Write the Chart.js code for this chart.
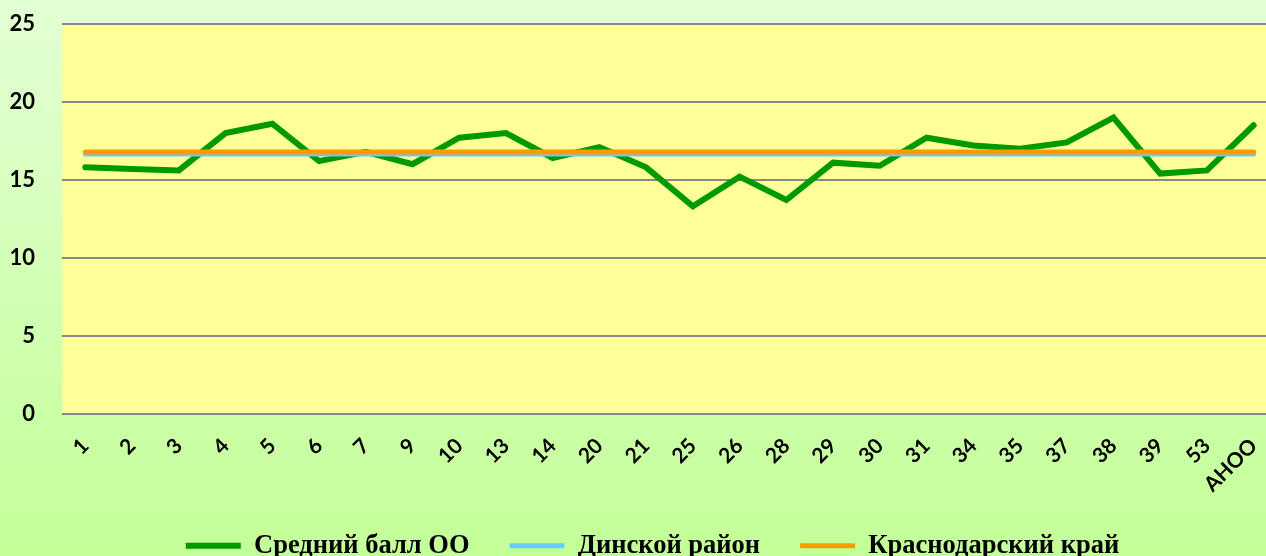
<!DOCTYPE html>
<html>
<head>
<meta charset="utf-8">
<script src="https://cdn.jsdelivr.net/npm/chart.js@4"></script>
<style>
    html, body { margin: 0; padding: 0; overflow: hidden; width: 1266px; height: 556px; }
    body { background: linear-gradient(#e3ffd4, #c3ff97); }
    #wrap { width: 1277px; height: 556px; }
</style>
</head>
<body>
<div id="wrap"><canvas id="chart" width="1277" height="556"></canvas></div>
<script>
const schools = ['1', '2', '3', '4', '5', '6', '7', '9', '10', '13', '14', '20', '21', '25', '26', '28',
    '29', '30', '31', '34', '35', '37', '38', '39', '53', 'АНОО'];
const schoolAvg = [15.8, 15.7, 15.6, 18.0, 18.6, 16.2, 16.8, 16.0, 17.7, 18.0, 16.4, 17.1, 15.8,
    13.3, 15.2, 13.7, 16.1, 15.9, 17.7, 17.2, 17.0, 17.4, 19.0, 15.4, 15.6, 18.5];
const districtAvg = schools.map(() => 16.65);
const regionAvg = schools.map(() => 16.78);
const yTicks = [0, 5, 10, 15, 20, 25];

// yellow plot area
const plotBackground = {
    id: 'plotBackground',
    beforeDraw(chart) {
        const { ctx, chartArea: a } = chart;
        ctx.save();
        ctx.fillStyle = '#ffff99';
        ctx.fillRect(a.left, a.top, a.right - a.left, a.bottom - a.top);
        ctx.restore();
    }
};

// the original legend sits a bit right of centre
const legendNudge = {
    id: 'legendNudge',
    afterLayout(chart) {
        chart.legend.left += 14;
        chart.legend.right += 14;
    }
};

function lineSet(label, data, color, width, order) {
    return {
        label: label,
        data: data,
        borderColor: color,
        backgroundColor: color,
        borderWidth: width,
        borderCapStyle: 'round',
        pointRadius: 0,
        pointHoverRadius: 0,
        tension: 0,
        order: order,
        pointStyle: 'line'
    };
}

const ctx = document.getElementById('chart').getContext('2d');
new Chart(ctx, {
    type: 'line',
    data: {
        labels: schools,
        datasets: [
            lineSet('Средний балл ОО', schoolAvg, '#009900', 6, 3),
            lineSet('Динской район', districtAvg, '#66ccff', 5, 2),
            lineSet('Краснодарский край', regionAvg, '#ff9900', 5, 1)
        ]
    },
    options: {
        responsive: false,
        animation: false,
        layout: { padding: { top: 24, right: 0, left: 0, bottom: -13 } },
        plugins: {
            tooltip: { enabled: false },
            legend: {
                position: 'bottom',
                labels: {
                    usePointStyle: true,
                    pointStyleWidth: 55,
                    padding: 40,
                    color: '#000',
                    font: { family: '"Liberation Serif", "Times New Roman", serif', size: 26.5, weight: 'bold' },
                    sort: (a, b) => a.datasetIndex - b.datasetIndex
                }
            }
        },
        scales: {
            x: {
                offset: true,
                afterFit(scale) {
                    scale.height = 79;
                    scale.paddingLeft = 0;
                    scale.paddingRight = 0;
                },
                grid: { display: false },
                border: { display: false },
                ticks: {
                    color: '#000',
                    maxRotation: 45,
                    minRotation: 45,
                    padding: 12,
                    autoSkip: false,
                    font: { family: 'Lato, "Open Sans", sans-serif', size: 21, weight: 'bold' }
                }
            },
            y: {
                min: 0,
                max: 25,
                afterFit(scale) {
                    scale.width = 62;
                    scale.paddingTop = 0;
                    scale.paddingBottom = 0;
                },
                afterBuildTicks(scale) { scale.ticks = yTicks.map(v => ({ value: v })); },
                grid: { color: '#878787', lineWidth: 2, drawTicks: false },
                border: { display: false },
                ticks: {
                    color: '#000',
                    padding: 27,
                    font: { family: 'Lato, "Open Sans", sans-serif', size: 22, weight: 'bold' }
                }
            }
        }
    },
    plugins: [plotBackground, legendNudge]
});
</script>
</body>
</html>
